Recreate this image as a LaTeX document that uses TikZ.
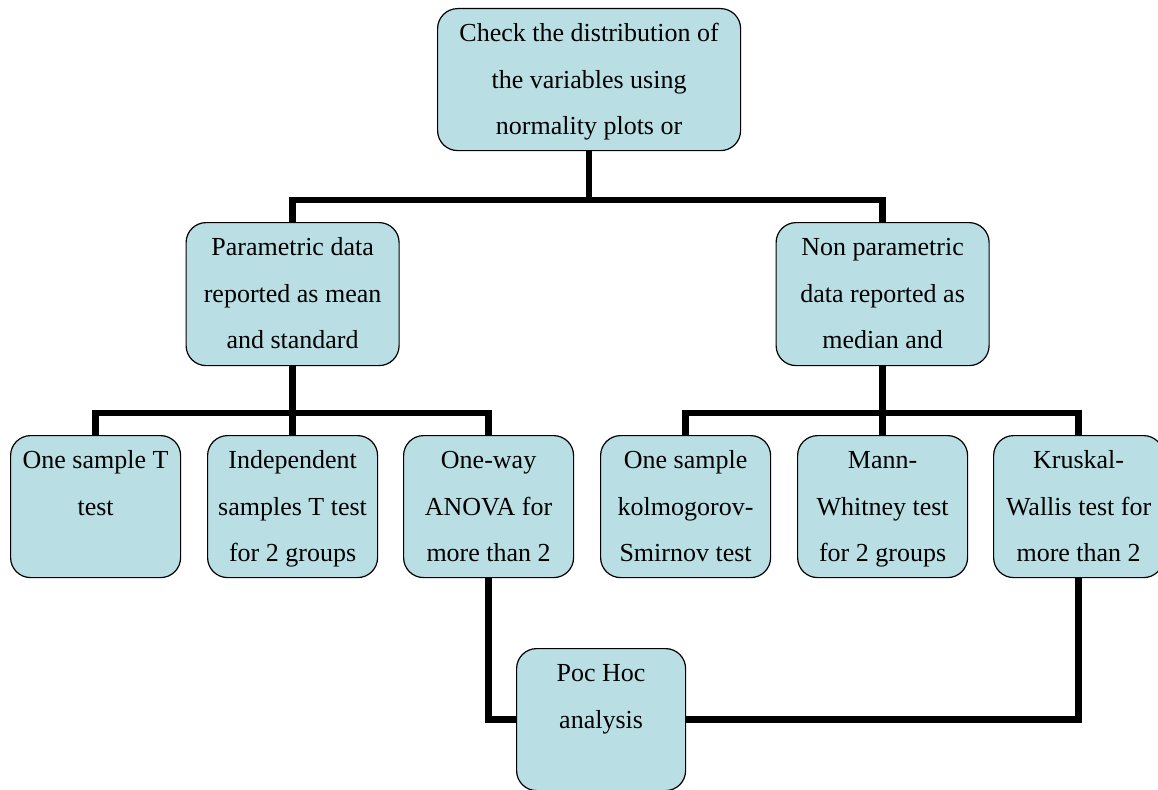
\documentclass[tikz,border=0pt]{standalone}
\usepackage{fontspec}
\setmainfont{Liberation Serif}
\definecolor{boxfill}{RGB}{185,223,228}
% Top-aligned text block of fixed size, first baseline 33pt below the top
\newcommand{\blocktext}[3]{\parbox[t][#2][t]{#1}{\fontsize{26}{46.5}\selectfont\centering\rule{0pt}{33pt}#3}}
\tikzset{
  box/.style={draw=black, line width=1.2pt, fill=boxfill, rounded corners=20pt,
              inner sep=0pt, anchor=north west},
  link/.style={line width=6.5pt, line join=miter, line cap=butt},
}
\begin{document}
\begin{tikzpicture}[x=1pt, y=-1pt]
\useasboundingbox (0,0) rectangle (1158,789);

% boxes
\node[box] (check) at (437,8)
  {\blocktext{303pt}{142pt}{Check the distribution of\\the variables using\\normality plots or}};
\node[box] (param) at (185.5,222)
  {\blocktext{213pt}{143pt}{Parametric data\\reported as mean\\and standard}};
\node[box] (nonparam) at (775.5,222)
  {\blocktext{213pt}{143pt}{Non parametric\\data reported as\\median and}};

\node[box] (one) at (10,435)
  {\blocktext{170pt}{142pt}{One sample T\\test}};
\node[box] (indep) at (207,435)
  {\blocktext{170pt}{142pt}{Independent\\samples T test\\for 2 groups}};
\node[box] (anova) at (403,435)
  {\blocktext{170pt}{142pt}{One-way\\ANOVA for\\more than 2}};
\node[box] (ks) at (600,435)
  {\blocktext{170pt}{142pt}{One sample\\kolmogorov-\\Smirnov test}};
\node[box] (mw) at (797,435)
  {\blocktext{170pt}{142pt}{Mann-\\Whitney test\\for 2 groups}};
\node[box] (kw) at (993,435)
  {\blocktext{170pt}{142pt}{Kruskal-\\Wallis test for\\more than 2}};

\node[box] (post) at (516,648)
  {\blocktext{169pt}{142pt}{Poc Hoc\\analysis}};

% junction points of the tree
\coordinate (j1) at ([yshift=-49pt]check.south);
\coordinate (j2) at ([yshift=-47pt]param.south);
\coordinate (j3) at ([yshift=-47pt]nonparam.south);

% connectors
\draw[link] (check.south) -- (j1);
\draw[link] (param.north) |- (j1) -| (nonparam.north);
\draw[link] (param.south) -- (j2);
\draw[link] (one.north) |- (j2) -| (anova.north);
\draw[link] (indep.north) -- (indep.north |- j2);
\draw[link] (nonparam.south) -- (j3);
\draw[link] (ks.north) |- (j3) -| (kw.north);
\draw[link] (mw.north) -- (mw.north |- j3);
\draw[link] (anova.south) |- (post.west);
\draw[link] (kw.south) |- (post.east);
\end{tikzpicture}
\end{document}
